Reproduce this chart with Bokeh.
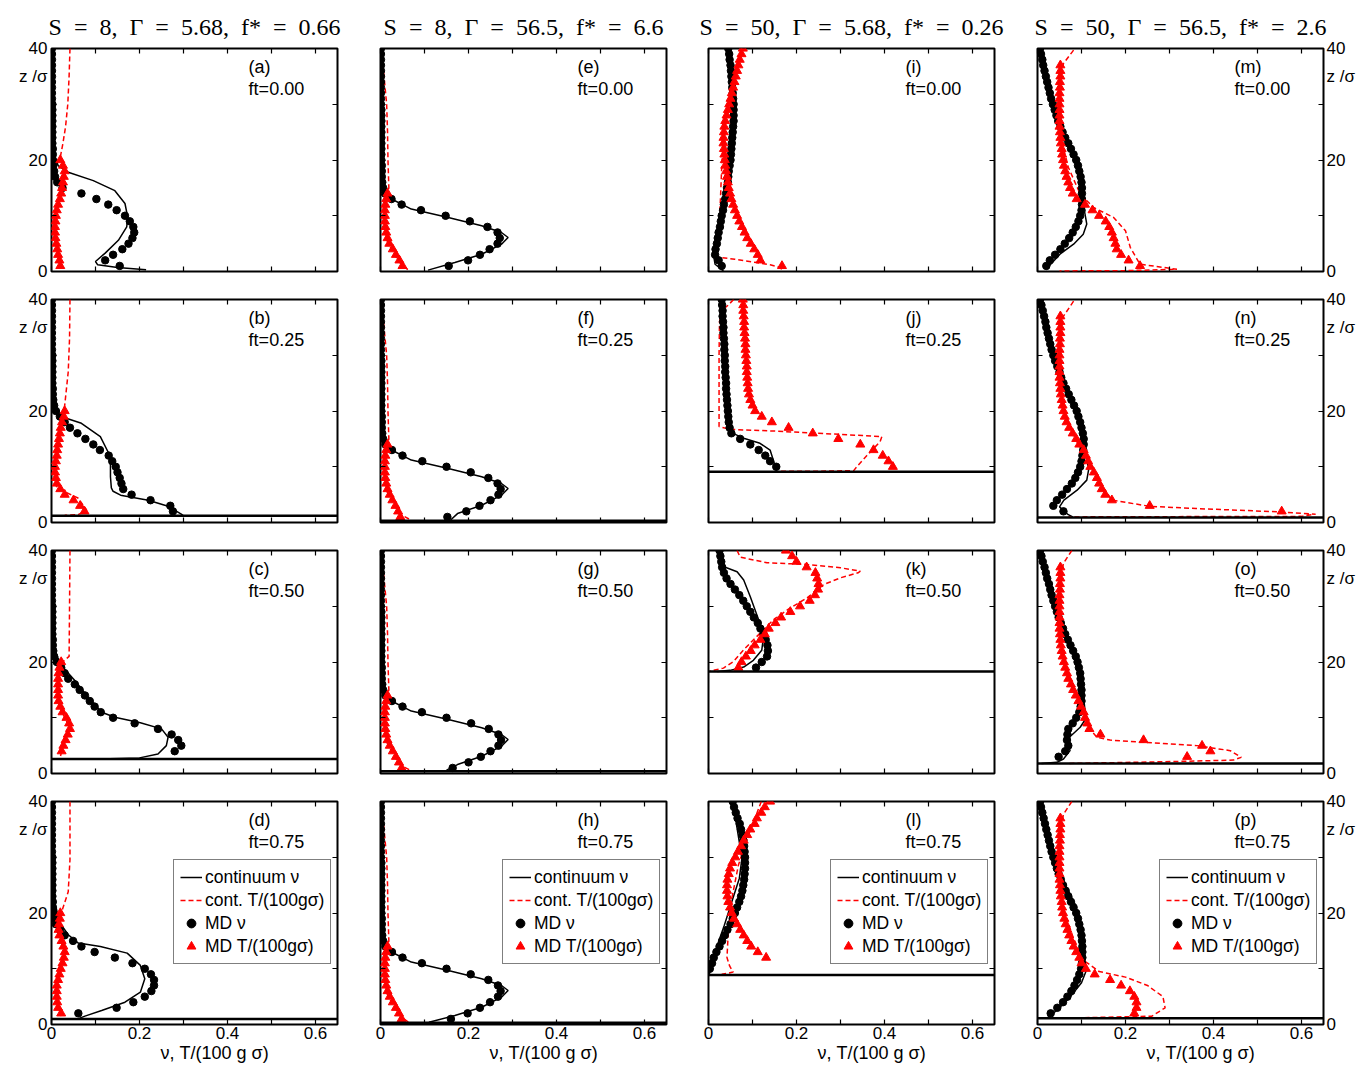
from bokeh.plotting import figure
from bokeh.layouts import gridplot
from bokeh.models import (Range1d, LinearAxis, FixedTicker, CustomJSTickFormatter,
                          Span, Label, Legend, LegendItem, Title)
from bokeh.embed import file_html
from bokeh.resources import INLINE

# ---------------- data ----------------
SP = "\u00a0\u00a0"
TITLES = ["S" + SP + "=" + SP + "8," + SP + "Γ" + SP + "=" + SP + "5.68," + SP + "f*" + SP + "=" + SP + "0.66",
          "S" + SP + "=" + SP + "8," + SP + "Γ" + SP + "=" + SP + "56.5," + SP + "f*" + SP + "=" + SP + "6.6",
          "S" + SP + "=" + SP + "50," + SP + "Γ" + SP + "=" + SP + "5.68," + SP + "f*" + SP + "=" + SP + "0.26",
          "S" + SP + "=" + SP + "50," + SP + "Γ" + SP + "=" + SP + "56.5," + SP + "f*" + SP + "=" + SP + "2.6"]
FT_LABELS = ["ft=0.00", "ft=0.25", "ft=0.50", "ft=0.75"]
LETTERS = [["a", "b", "c", "d"], ["e", "f", "g", "h"],
           ["i", "j", "k", "l"], ["m", "n", "o", "p"]]
X_TICKS = [0, 0.1, 0.2, 0.3, 0.4, 0.5, 0.6]
Y_TICKS = [0, 10, 20, 30, 40]
Y_LABEL_TICKS = [0, 20, 34.9, 40]
Z_MD = [1, 2, 3, 4, 5, 6, 7, 8, 9, 10, 11, 12, 13, 14, 15, 16, 17, 18, 19, 20,
        21, 22, 23, 24, 25, 26, 27, 28, 29, 30, 31, 32, 33, 34, 35, 36, 37, 38, 39, 40]
FLOORS = [[None, 1.2, 2.6, 1.0], [None, 0.3, 0.4, 0.3],
          [None, 9.1, 18.3, 8.9], [None, 0.9, 1.8, 1.1]]

# column 1: S=8, Gamma=5.68
NU_MD_A = [0.155, 0.122, 0.140, 0.161, 0.175, 0.184, 0.188, 0.186, 0.178, 0.167,
           0.148, 0.129, 0.102, 0.068, 0.025, 0.013, 0.008, 0.006, 0.004, 0.003,
           0.003, 0.003, 0.002, 0.002, 0.002, 0.002, 0.002, 0.002, 0.002, 0.002,
           0.001, 0.001, 0.001, 0.001, 0.001, 0.001, 0.001, 0.001, 0.001, 0.001]
T_MD_A = [0.020, 0.018, 0.015, 0.013, 0.011, 0.009, 0.008, 0.008, 0.009, 0.010,
          0.012, 0.015, 0.019, 0.022, 0.024, 0.026, 0.028, 0.030, 0.026, 0.020]
NU_C_A = [(0.002, 40), (0.002, 30), (0.003, 24), (0.006, 21), (0.015, 19), (0.038, 17.8),
          (0.095, 16.3), (0.144, 14.5), (0.167, 12.2), (0.173, 9.8), (0.171, 8.0),
          (0.152, 5.6), (0.122, 3.3), (0.100, 1.8), (0.105, 1.2), (0.150, 0.7), (0.215, 0.3)]
T_C_A = [(0.042, 40), (0.040, 35), (0.037, 30), (0.032, 26), (0.026, 23), (0.020, 20.5),
         (0.026, 19), (0.030, 17.5), (0.025, 15), (0.018, 12.5), (0.010, 10), (0.008, 7),
         (0.012, 4), (0.020, 1.5), (0.022, 0.5)]

NU_MD_B = [None, 0.276, 0.270, 0.225, 0.182, 0.163, 0.159, 0.155, 0.150, 0.146,
           0.138, 0.130, 0.110, 0.095, 0.077, 0.059, 0.042, 0.030, 0.019, 0.010,
           0.006, 0.004, 0.003, 0.003, 0.002, 0.002, 0.002, 0.002, 0.002, 0.002,
           0.001, 0.001, 0.001, 0.001, 0.001, 0.001, 0.001, 0.001, 0.001, 0.001]
T_MD_B = [None, 0.075, 0.065, 0.050, 0.030, 0.020, 0.012, 0.010, 0.008, 0.008,
          0.010, 0.012, 0.013, 0.015, 0.017, 0.019, 0.021, 0.024, 0.028, 0.030]
NU_C_B = [(0.002, 40), (0.002, 30), (0.004, 23), (0.010, 20), (0.030, 18.8), (0.068, 17.8),
          (0.111, 15.4), (0.134, 11.8), (0.134, 8.2), (0.136, 6.2), (0.140, 5.6),
          (0.157, 4.9), (0.220, 4.0), (0.265, 2.9), (0.295, 1.5), (0.300, 1.2)]
T_C_B = [(0.042, 40), (0.041, 33), (0.038, 27), (0.030, 21), (0.025, 19), (0.020, 16.5),
         (0.012, 12.5), (0.009, 9), (0.011, 6.5), (0.030, 5.5), (0.060, 4.4), (0.080, 2.2),
         (0.060, 1.4), (0.030, 1.3)]

NU_MD_C = [None, None, None, 0.280, 0.295, 0.288, 0.273, 0.242, 0.189, 0.140,
           0.112, 0.098, 0.087, 0.076, 0.064, 0.053, 0.038, 0.030, 0.022, 0.012,
           0.006, 0.004, 0.003, 0.003, 0.002, 0.002, 0.002, 0.002, 0.002, 0.002,
           0.001, 0.001, 0.001, 0.001, 0.001, 0.001, 0.001, 0.001, 0.001, 0.001]
T_MD_C = [None, None, None, 0.023, 0.027, 0.032, 0.037, 0.042, 0.040, 0.034,
          0.025, 0.020, 0.016, 0.015, 0.015, 0.015, 0.015, 0.016, 0.018, 0.022]
NU_C_C = [(0.002, 40), (0.002, 30), (0.004, 23), (0.020, 19.6), (0.053, 16.7), (0.083, 13.7),
          (0.114, 11.0), (0.144, 10.1), (0.202, 9.1), (0.250, 8.0), (0.265, 6.5),
          (0.261, 5.0), (0.242, 3.5), (0.200, 2.8), (0.110, 2.6)]
T_C_C = [(0.042, 40), (0.041, 30), (0.040, 21), (0.022, 19.8), (0.015, 16), (0.016, 12.5),
         (0.030, 10), (0.040, 8.5), (0.034, 6.5), (0.025, 4.5), (0.020, 3.0)]

NU_MD_D = [None, 0.061, 0.148, 0.186, 0.212, 0.227, 0.233, 0.233, 0.226, 0.212,
           0.184, 0.144, 0.098, 0.068, 0.049, 0.030, 0.019, 0.010, 0.006, 0.004,
           0.003, 0.003, 0.002, 0.002, 0.002, 0.002, 0.002, 0.002, 0.002, 0.002,
           0.001, 0.001, 0.001, 0.001, 0.001, 0.001, 0.001, 0.001, 0.001, 0.001]
T_MD_D = [None, 0.022, 0.015, 0.013, 0.012, 0.012, 0.012, 0.015, 0.018, 0.021,
          0.025, 0.028, 0.030, 0.027, 0.023, 0.018, 0.016, 0.017, 0.019, 0.020]
NU_C_D = [(0.002, 40), (0.002, 30), (0.004, 23), (0.019, 18.2), (0.038, 16.1), (0.061, 14.6),
          (0.111, 14.0), (0.172, 12.8), (0.202, 10.6), (0.212, 8.2), (0.202, 5.8),
          (0.167, 4.0), (0.114, 2.5), (0.076, 1.5), (0.060, 1.0)]
T_C_D = [(0.042, 40), (0.042, 29.6), (0.038, 23.8), (0.023, 20.2), (0.017, 17), (0.025, 14),
         (0.028, 12), (0.020, 9.5), (0.012, 7), (0.012, 4.5), (0.016, 3), (0.022, 1.5)]

# column 2: S=8, Gamma=56.5
NU_MD_E = [0.155, 0.199, 0.226, 0.248, 0.266, 0.271, 0.266, 0.243, 0.203, 0.148,
           0.092, 0.048, 0.025, 0.010, 0.006, 0.004, 0.003, 0.003, 0.003, 0.002,
           0.002, 0.002, 0.002, 0.002, 0.002, 0.002, 0.002, 0.002, 0.002, 0.001,
           0.001, 0.001, 0.001, 0.001, 0.001, 0.001, 0.001, 0.001, 0.001, 0.001]
T_MD_E = [0.050, 0.043, 0.035, 0.028, 0.020, 0.016, 0.013, 0.011, 0.010, 0.010,
          0.010, 0.011, 0.013, 0.016]
NU_C_E = [(0.002, 40), (0.002, 25), (0.004, 16), (0.010, 14.5), (0.025, 13.0), (0.070, 11.2),
          (0.154, 9.7), (0.230, 8.2), (0.275, 7.0), (0.290, 6.1), (0.275, 4.9),
          (0.230, 3.1), (0.169, 1.6), (0.108, 0.25)]
T_C_E = [(0.002, 40), (0.008, 35), (0.014, 30), (0.016, 25), (0.017, 20), (0.019, 15),
         (0.012, 12), (0.010, 8), (0.015, 5.5), (0.030, 3.2), (0.045, 1.5), (0.064, 0.2)]

NU_MD_F = [0.152, 0.195, 0.225, 0.250, 0.268, 0.273, 0.266, 0.245, 0.205, 0.150,
           0.095, 0.050, 0.026, 0.011, 0.006, 0.004, 0.003, 0.003, 0.003, 0.002,
           0.002, 0.002, 0.002, 0.002, 0.002, 0.002, 0.002, 0.002, 0.002, 0.001,
           0.001, 0.001, 0.001, 0.001, 0.001, 0.001, 0.001, 0.001, 0.001, 0.001]
T_MD_F = [0.045, 0.040, 0.034, 0.027, 0.021, 0.016, 0.013, 0.011, 0.010, 0.010,
          0.010, 0.011, 0.013, 0.016]
NU_C_F = [(0.002, 40), (0.002, 25), (0.004, 16), (0.010, 14.5), (0.025, 13.0), (0.070, 11.2),
          (0.154, 9.7), (0.230, 8.2), (0.275, 7.0), (0.290, 6.1), (0.275, 4.9),
          (0.230, 3.1), (0.175, 1.6), (0.160, 0.5)]
T_C_F = [(0.002, 40), (0.008, 35), (0.014, 30), (0.016, 25), (0.017, 20), (0.019, 15),
         (0.012, 12), (0.010, 8), (0.015, 5.5), (0.030, 3.2), (0.045, 1.5), (0.070, 0.4)]

NU_MD_G = [0.164, 0.200, 0.228, 0.250, 0.268, 0.274, 0.268, 0.246, 0.206, 0.150,
           0.094, 0.050, 0.026, 0.011, 0.006, 0.004, 0.003, 0.003, 0.003, 0.002,
           0.002, 0.002, 0.002, 0.002, 0.002, 0.002, 0.002, 0.002, 0.002, 0.001,
           0.001, 0.001, 0.001, 0.001, 0.001, 0.001, 0.001, 0.001, 0.001, 0.001]
T_MD_G = [0.048, 0.042, 0.035, 0.028, 0.021, 0.016, 0.013, 0.011, 0.010, 0.010,
          0.010, 0.011, 0.013, 0.016]
NU_C_G = [(0.002, 40), (0.002, 25), (0.004, 16), (0.010, 14.5), (0.025, 13.0), (0.070, 11.2),
          (0.154, 9.7), (0.230, 8.2), (0.275, 7.0), (0.290, 6.1), (0.275, 4.9),
          (0.230, 3.1), (0.175, 1.6), (0.150, 0.6)]
T_C_G = [(0.002, 40), (0.008, 35), (0.014, 30), (0.016, 25), (0.017, 20), (0.019, 15),
         (0.012, 12), (0.010, 8), (0.015, 5.5), (0.030, 3.2), (0.045, 1.5), (0.070, 0.5)]

NU_MD_H = [0.160, 0.198, 0.226, 0.249, 0.267, 0.273, 0.267, 0.245, 0.205, 0.150,
           0.094, 0.050, 0.026, 0.011, 0.006, 0.004, 0.003, 0.003, 0.003, 0.002,
           0.002, 0.002, 0.002, 0.002, 0.002, 0.002, 0.002, 0.002, 0.002, 0.001,
           0.001, 0.001, 0.001, 0.001, 0.001, 0.001, 0.001, 0.001, 0.001, 0.001]
T_MD_H = [0.048, 0.042, 0.035, 0.028, 0.021, 0.016, 0.013, 0.011, 0.010, 0.010,
          0.010, 0.011, 0.013, 0.016]
NU_C_H = [(0.002, 40), (0.002, 25), (0.004, 16), (0.010, 14.5), (0.025, 13.0), (0.070, 11.2),
          (0.154, 9.7), (0.230, 8.2), (0.275, 7.0), (0.290, 6.1), (0.275, 4.9),
          (0.230, 3.1), (0.169, 1.6), (0.110, 0.4)]
T_C_H = [(0.002, 40), (0.008, 35), (0.014, 30), (0.016, 25), (0.017, 20), (0.019, 15),
         (0.012, 12), (0.010, 8), (0.015, 5.5), (0.030, 3.2), (0.045, 1.5), (0.064, 0.4)]

# column 3: S=50, Gamma=5.68
NU_MD_I = [0.030, 0.023, 0.015, 0.016, 0.019, 0.021, 0.023, 0.026, 0.028, 0.030,
           0.033, 0.035, 0.038, 0.040, 0.042, 0.044, 0.045, 0.046, 0.048, 0.050,
           0.051, 0.052, 0.053, 0.054, 0.055, 0.056, 0.057, 0.057, 0.057, 0.057,
           0.056, 0.055, 0.054, 0.053, 0.052, 0.051, 0.050, 0.048, 0.047, 0.045]
T_MD_I = [0.167, 0.118, 0.112, 0.104, 0.096, 0.088, 0.082, 0.076, 0.070, 0.065,
          0.060, 0.056, 0.052, 0.049, 0.046, 0.044, 0.042, 0.040, 0.038, 0.037,
          0.036, 0.035, 0.034, 0.034, 0.035, 0.036, 0.038, 0.041, 0.044, 0.047,
          0.050, 0.053, 0.056, 0.059, 0.062, 0.065, 0.068, 0.071, 0.075, 0.078]
NU_C_I = [(0.045, 40), (0.053, 33), (0.053, 24.5), (0.038, 15.1), (0.023, 6.7),
          (0.011, 3.1), (0.015, 1.3), (0.034, 0.1)]
T_C_I = [(0.076, 40), (0.057, 34.9), (0.042, 29.5), (0.034, 24.7), (0.030, 18.7),
         (0.027, 12.7), (0.023, 6.7), (0.019, 3.1), (0.020, 2.6), (0.060, 2.2),
         (0.110, 1.6), (0.140, 1.2), (0.160, 0.8), (0.170, 0.2)]

NU_MD_J = [None, None, None, None, None, None, None, None, None, 0.154,
           0.140, 0.129, 0.114, 0.095, 0.072, 0.052, 0.048, 0.046, 0.045, 0.044,
           0.043, 0.042, 0.041, 0.040, 0.040, 0.039, 0.038, 0.038, 0.037, 0.037,
           0.036, 0.036, 0.035, 0.034, 0.034, 0.033, 0.032, 0.032, 0.031, 0.030]
T_MD_J = [None, None, None, None, None, None, None, None, None, 0.419,
          0.409, 0.396, 0.375, 0.345, 0.295, 0.237, 0.182, 0.144, 0.121, 0.106,
          0.100, 0.095, 0.092, 0.090, 0.089, 0.088, 0.087, 0.087, 0.086, 0.085,
          0.084, 0.084, 0.083, 0.082, 0.081, 0.081, 0.080, 0.079, 0.079, 0.078]
NU_C_J = [(0.030, 40.3), (0.034, 34.6), (0.038, 26.8), (0.043, 20.8), (0.045, 17.0),
          (0.050, 16.2), (0.080, 15.1), (0.117, 14.2), (0.140, 13.0), (0.152, 10.0), (0.155, 9.1)]
T_C_J = [(0.057, 40), (0.045, 39), (0.030, 38), (0.025, 36), (0.024, 30), (0.024, 20),
         (0.024, 17.2), (0.050, 16.7), (0.150, 16.4), (0.250, 16.0), (0.350, 15.6),
         (0.394, 15.4), (0.390, 14.5), (0.360, 12.0), (0.337, 10.0), (0.330, 9.3),
         (0.250, 9.2), (0.160, 9.2)]

NU_MD_K = [None, None, None, None, None, None, None, None, None, None,
           None, None, None, None, None, None, None, None, 0.108, 0.121,
           0.133, 0.135, 0.134, 0.130, 0.125, 0.118, 0.112, 0.103, 0.095, 0.087,
           0.079, 0.070, 0.060, 0.050, 0.041, 0.035, 0.031, 0.029, 0.027, 0.025]
T_MD_K = [None, None, None, None, None, None, None, None, None, None,
          None, None, None, None, None, None, None, None, 0.068, 0.075,
          0.085, 0.096, 0.105, 0.118, 0.128, 0.137, 0.152, 0.165, 0.186, 0.208,
          0.230, 0.242, 0.249, 0.250, 0.247, 0.243, 0.223, 0.200, 0.190, 0.176]
NU_C_K = [(0.025, 40), (0.038, 37), (0.065, 36.2), (0.080, 34.7), (0.095, 31.7),
          (0.117, 26.9), (0.125, 24.5), (0.121, 22.1), (0.102, 20.3), (0.080, 19.1),
          (0.049, 18.5), (0.020, 18.3)]
T_C_K = [(0.065, 40), (0.072, 38.8), (0.133, 37.8), (0.224, 37.5), (0.300, 36.9),
         (0.345, 36.3), (0.340, 36.0), (0.300, 35.1), (0.262, 33.9), (0.224, 31.5),
         (0.186, 29.7), (0.148, 27.6), (0.110, 24.6), (0.080, 22.2), (0.057, 20.1),
         (0.034, 18.9), (0.004, 18.4)]

NU_MD_L = [None, None, None, None, None, None, None, None, None, 0.003,
           0.008, 0.012, 0.018, 0.025, 0.031, 0.037, 0.043, 0.050, 0.055, 0.060,
           0.065, 0.070, 0.074, 0.077, 0.079, 0.081, 0.082, 0.083, 0.083, 0.083,
           0.082, 0.081, 0.079, 0.077, 0.074, 0.071, 0.066, 0.062, 0.058, 0.055]
T_MD_L = [None, None, None, None, None, None, None, None, None, None,
          None, 0.131, 0.112, 0.097, 0.088, 0.080, 0.072, 0.065, 0.058, 0.053,
          0.049, 0.045, 0.043, 0.042, 0.042, 0.043, 0.046, 0.049, 0.054, 0.061,
          0.067, 0.074, 0.080, 0.088, 0.095, 0.105, 0.110, 0.120, 0.128, 0.140]
NU_C_L = [(0.055, 40), (0.065, 35.2), (0.076, 29.8), (0.070, 26.2), (0.053, 22.0),
          (0.036, 17.8), (0.020, 14.2), (0.004, 10.0), (0.002, 9.0)]
T_C_L = [(0.120, 40), (0.091, 34.0), (0.068, 28.6), (0.053, 22.6), (0.045, 16.6),
         (0.042, 12.0), (0.048, 10.5), (0.056, 9.4), (0.030, 9.0)]

# column 4: S=50, Gamma=56.5
NU_MD_M = [0.020, 0.028, 0.040, 0.052, 0.062, 0.072, 0.080, 0.087, 0.093, 0.097,
           0.100, 0.101, 0.101, 0.101, 0.101, 0.100, 0.098, 0.095, 0.092, 0.088,
           0.082, 0.076, 0.070, 0.063, 0.057, 0.052, 0.047, 0.043, 0.039, 0.035,
           0.031, 0.028, 0.025, 0.022, 0.019, 0.016, 0.013, 0.011, 0.008, 0.006]
T_MD_M = [0.233, 0.207, 0.190, 0.180, 0.177, 0.173, 0.169, 0.163, 0.155, 0.140,
          0.125, 0.108, 0.089, 0.080, 0.074, 0.070, 0.066, 0.063, 0.060, 0.058,
          0.056, 0.055, 0.053, 0.052, 0.051, 0.050, 0.050, 0.050, 0.050, 0.050,
          0.050, 0.050, 0.051, 0.051, 0.052, 0.052, 0.052]
NU_C_M = [(0.006, 40), (0.014, 36.7), (0.025, 33.1), (0.040, 28.9), (0.059, 24.7),
          (0.078, 21.7), (0.093, 18.7), (0.101, 15.1), (0.104, 12.1), (0.108, 10.3),
          (0.112, 8.5), (0.104, 6.7), (0.082, 4.9), (0.051, 3.1), (0.030, 1.3), (0.020, 0.4)]
T_C_M = [(0.082, 39.7), (0.059, 37.3), (0.048, 33.1), (0.048, 28.9), (0.055, 23.5),
         (0.070, 18.7), (0.097, 13.9), (0.127, 11.5), (0.173, 9.7), (0.200, 7.3),
         (0.211, 4.3), (0.233, 1.3), (0.317, 0.4), (0.200, 0.15), (0.050, 0.1)]

NU_MD_N = [None, 0.059, 0.036, 0.044, 0.056, 0.067, 0.078, 0.086, 0.092, 0.097,
           0.100, 0.102, 0.104, 0.105, 0.105, 0.103, 0.100, 0.097, 0.093, 0.089,
           0.083, 0.077, 0.071, 0.065, 0.059, 0.054, 0.050, 0.045, 0.040, 0.036,
           0.032, 0.029, 0.026, 0.023, 0.020, 0.018, 0.015, 0.012, 0.009, 0.006]
T_MD_N = [None, 0.555, 0.255, 0.169, 0.154, 0.146, 0.140, 0.135, 0.128, 0.120,
          0.115, 0.110, 0.105, 0.095, 0.088, 0.080, 0.072, 0.066, 0.062, 0.059,
          0.057, 0.055, 0.053, 0.052, 0.051, 0.050, 0.050, 0.050, 0.050, 0.050,
          0.050, 0.051, 0.051, 0.052, 0.052, 0.052, 0.052]
NU_C_N = [(0.006, 40), (0.018, 35.8), (0.036, 29.8), (0.059, 25.0), (0.082, 21.4),
          (0.097, 17.8), (0.105, 14.8), (0.112, 11.8), (0.116, 9.4), (0.112, 7.6),
          (0.090, 5.8), (0.060, 4.0), (0.050, 2.8), (0.070, 1.4), (0.080, 1.0)]
T_C_N = [(0.082, 39.7), (0.059, 37.0), (0.048, 32.8), (0.048, 26.8), (0.059, 20.8),
         (0.078, 16.0), (0.105, 12.4), (0.131, 8.8), (0.154, 5.8), (0.169, 4.0),
         (0.256, 2.9), (0.360, 2.5), (0.552, 1.9), (0.632, 1.5), (0.600, 1.1),
         (0.300, 1.05), (0.070, 1.0)]

NU_MD_O = [None, None, 0.048, 0.063, 0.070, 0.067, 0.068, 0.070, 0.080, 0.088,
           0.095, 0.098, 0.100, 0.100, 0.100, 0.099, 0.098, 0.097, 0.094, 0.091,
           0.087, 0.081, 0.075, 0.069, 0.063, 0.058, 0.053, 0.048, 0.044, 0.040,
           0.036, 0.032, 0.029, 0.026, 0.022, 0.019, 0.016, 0.012, 0.009, 0.006]
T_MD_O = [None, None, 0.340, 0.393, 0.374, 0.241, 0.143, 0.118, 0.113, 0.108,
          0.105, 0.099, 0.093, 0.087, 0.081, 0.076, 0.070, 0.067, 0.063, 0.060,
          0.057, 0.055, 0.053, 0.052, 0.051, 0.050, 0.050, 0.050, 0.050, 0.050,
          0.050, 0.050, 0.051, 0.051, 0.052, 0.052, 0.052]
NU_C_O = [(0.006, 40), (0.021, 35.3), (0.040, 29.9), (0.063, 25.1), (0.086, 21.5),
          (0.097, 17.9), (0.104, 14.3), (0.108, 11.3), (0.112, 10.1), (0.097, 8.3),
          (0.067, 6.1), (0.074, 4.1), (0.059, 2.6), (0.044, 2.0), (0.009, 1.8)]
T_C_O = [(0.078, 40), (0.059, 37.7), (0.048, 32.8), (0.048, 26.8), (0.059, 20.8),
         (0.082, 15.4), (0.105, 11.8), (0.117, 8.2), (0.135, 6.5), (0.165, 6.0),
         (0.240, 5.6), (0.362, 5.0), (0.438, 4.1), (0.463, 2.9), (0.445, 2.4),
         (0.280, 2.1), (0.070, 1.8)]

NU_MD_P = [None, 0.030, 0.045, 0.058, 0.068, 0.077, 0.084, 0.090, 0.095, 0.099,
           0.101, 0.102, 0.102, 0.102, 0.101, 0.100, 0.098, 0.095, 0.092, 0.088,
           0.082, 0.076, 0.070, 0.064, 0.058, 0.053, 0.048, 0.044, 0.040, 0.036,
           0.032, 0.029, 0.026, 0.023, 0.020, 0.017, 0.014, 0.011, 0.008, 0.006]
T_MD_P = [None, 0.220, 0.225, 0.225, 0.220, 0.210, 0.190, 0.165, 0.130, 0.110,
          0.100, 0.095, 0.088, 0.082, 0.077, 0.072, 0.068, 0.064, 0.061, 0.058,
          0.056, 0.055, 0.053, 0.052, 0.051, 0.050, 0.050, 0.050, 0.050, 0.050,
          0.050, 0.050, 0.051, 0.051, 0.052, 0.052, 0.052]
NU_C_P = [(0.006, 40), (0.021, 35.3), (0.040, 29.9), (0.063, 25.1), (0.086, 21.5),
          (0.097, 17.9), (0.104, 14.3), (0.108, 11.3), (0.110, 9.5), (0.100, 7.5),
          (0.075, 5.0), (0.050, 3.0), (0.030, 1.6), (0.020, 1.1)]
T_C_P = [(0.078, 40), (0.059, 37.7), (0.048, 32.8), (0.048, 26.8), (0.059, 20.8),
         (0.082, 15.4), (0.105, 11.5), (0.140, 9.5), (0.200, 8.5), (0.250, 7.0),
         (0.285, 5.0), (0.290, 3.0), (0.260, 1.5), (0.100, 1.2)]

PANELS = [
    [(NU_MD_A, T_MD_A, NU_C_A, T_C_A), (NU_MD_B, T_MD_B, NU_C_B, T_C_B),
     (NU_MD_C, T_MD_C, NU_C_C, T_C_C), (NU_MD_D, T_MD_D, NU_C_D, T_C_D)],
    [(NU_MD_E, T_MD_E, NU_C_E, T_C_E), (NU_MD_F, T_MD_F, NU_C_F, T_C_F),
     (NU_MD_G, T_MD_G, NU_C_G, T_C_G), (NU_MD_H, T_MD_H, NU_C_H, T_C_H)],
    [(NU_MD_I, T_MD_I, NU_C_I, T_C_I), (NU_MD_J, T_MD_J, NU_C_J, T_C_J),
     (NU_MD_K, T_MD_K, NU_C_K, T_C_K), (NU_MD_L, T_MD_L, NU_C_L, T_C_L)],
    [(NU_MD_M, T_MD_M, NU_C_M, T_C_M), (NU_MD_N, T_MD_N, NU_C_N, T_C_N),
     (NU_MD_O, T_MD_O, NU_C_O, T_C_O), (NU_MD_P, T_MD_P, NU_C_P, T_C_P)],
]

# ---------------- styling helpers ----------------
SANS = "Liberation Sans"
X_FMT = """const k = Math.round(tick*10);
if (k % 2 != 0) { return ""; }
return k == 0 ? "0" : (k/10).toFixed(1);"""
Y_FMT = """if (Math.abs(tick - 34.9) < 0.01) { return "z /σ"; }
const k = Math.round(tick);
return (k % 20 == 0) ? k.toString() : "";"""

BORDER_L = [51, 22, 21, 21]
BORDER_R = [21, 21, 22, 38]
BORDER_T = [48, 14, 14, 14]
BORDER_B = [14, 14, 14, 41]


def tick_axis(ticks):
    """axis drawing only inward tick marks (no labels)"""
    ax = LinearAxis(ticker=FixedTicker(ticks=ticks, minor_ticks=[]))
    ax.axis_line_color = None
    ax.major_tick_in = 5
    ax.major_tick_out = 0
    ax.major_tick_line_color = "black"
    ax.major_tick_line_width = 1.2
    ax.minor_tick_line_color = None
    ax.formatter = CustomJSTickFormatter(code="return '';")
    ax.major_label_text_font_size = "0px"
    ax.major_label_standoff = 0
    return ax


def label_axis(ticks, fmt, standoff):
    """axis drawing only labels (no tick marks)"""
    ax = LinearAxis(ticker=FixedTicker(ticks=ticks, minor_ticks=[]))
    ax.axis_line_color = None
    ax.major_tick_in = 0
    ax.major_tick_out = 0
    ax.major_tick_line_color = None
    ax.minor_tick_line_color = None
    ax.formatter = CustomJSTickFormatter(code=fmt)
    ax.major_label_text_font = SANS
    ax.major_label_text_font_size = "17px"
    ax.major_label_text_color = "black"
    ax.major_label_standoff = standoff
    return ax


def split(vals):
    xs, zs = [], []
    for z, v in zip(Z_MD, vals):
        if v is not None:
            xs.append(v)
            zs.append(z)
    return xs, zs


grid = []
for r in range(4):
    row_figs = []
    for c in range(4):
        nu_md, t_md, nu_c, t_c = PANELS[c][r]
        p = figure(frame_width=286, frame_height=223,
                   x_range=Range1d(0, 0.65), y_range=Range1d(0, 40),
                   output_backend="svg", toolbar_location=None,
                   x_axis_location=None, y_axis_location=None,
                   min_border_left=BORDER_L[c], min_border_right=BORDER_R[c],
                   min_border_top=BORDER_T[r], min_border_bottom=BORDER_B[r],
                   background_fill_color="white", border_fill_color="white")
        p.grid.grid_line_color = None
        p.outline_line_color = "black"
        p.outline_line_width = 2
        p.outline_line_alpha = 1

        p.add_layout(tick_axis(X_TICKS), "below")
        if r == 3:
            p.add_layout(label_axis(X_TICKS, X_FMT, 2), "below")
        p.add_layout(tick_axis(X_TICKS), "above")
        p.add_layout(tick_axis(Y_TICKS), "left")
        if c == 0:
            p.add_layout(label_axis(Y_LABEL_TICKS, Y_FMT, 4), "left")
        p.add_layout(tick_axis(Y_TICKS), "right")
        if c == 3:
            p.add_layout(label_axis(Y_LABEL_TICKS, Y_FMT, 3), "right")

        if r == 0:
            p.add_layout(Title(text=TITLES[c], align="center",
                               text_font="Liberation Serif", text_font_size="24px",
                               text_font_style="normal", text_color="black",
                               standoff=18), "above")
        if r == 3:
            p.add_layout(Title(text="ν, T/(100 g σ)", align="left", offset=109,
                               text_font=SANS, text_font_size="18px",
                               text_font_style="normal", text_color="black",
                               standoff=-2), "below")

        fl = FLOORS[c][r]
        if fl is not None:
            p.add_layout(Span(location=fl, dimension="width", line_color="black",
                              line_width=2.5))

        r_nu = p.line([q[0] for q in nu_c], [q[1] for q in nu_c],
                      line_color="black", line_width=1.5)
        r_t = p.line([q[0] for q in t_c], [q[1] for q in t_c],
                     line_color="#ff0000", line_width=1.5, line_dash="5 3")
        xs, zs = split(nu_md)
        r_nmd = p.scatter(xs, zs, marker="circle", size=7.5, fill_color="black",
                          line_color="black")
        xs, zs = split(t_md)
        r_tmd = p.scatter(xs, zs, marker="triangle", size=9, fill_color="#ff0000",
                          line_color="#ff0000")

        p.add_layout(Label(x=0.448, y=36.7, text="(" + LETTERS[c][r] + ")",
                           text_font=SANS, text_font_size="18px",
                           text_baseline="middle", text_color="black"))
        p.add_layout(Label(x=0.448, y=32.7, text=FT_LABELS[r],
                           text_font=SANS, text_font_size="18px",
                           text_baseline="middle", text_color="black"))

        if r == 3:
            legend = Legend(items=[
                LegendItem(label="continuum ν", renderers=[r_nu]),
                LegendItem(label="cont. T/(100gσ)", renderers=[r_t]),
                LegendItem(label="MD ν", renderers=[r_nmd]),
                LegendItem(label="MD T/(100gσ)", renderers=[r_tmd]),
            ], location=(122, 60))
            legend.label_text_font = SANS
            legend.label_text_font_size = "17.5px"
            legend.label_text_color = "black"
            legend.glyph_width = 22
            legend.glyph_height = 22
            legend.label_height = 22
            legend.label_standoff = 3
            legend.spacing = 1
            legend.padding = 6
            legend.margin = 0
            legend.border_line_color = "black"
            legend.border_line_width = 1
            legend.background_fill_color = "white"
            legend.background_fill_alpha = 1
            p.add_layout(legend)
        row_figs.append(p)
    grid.append(row_figs)

layout = gridplot(grid, toolbar_location=None)

with open("out.html", "w") as fh:
    fh.write(file_html(layout, INLINE))
